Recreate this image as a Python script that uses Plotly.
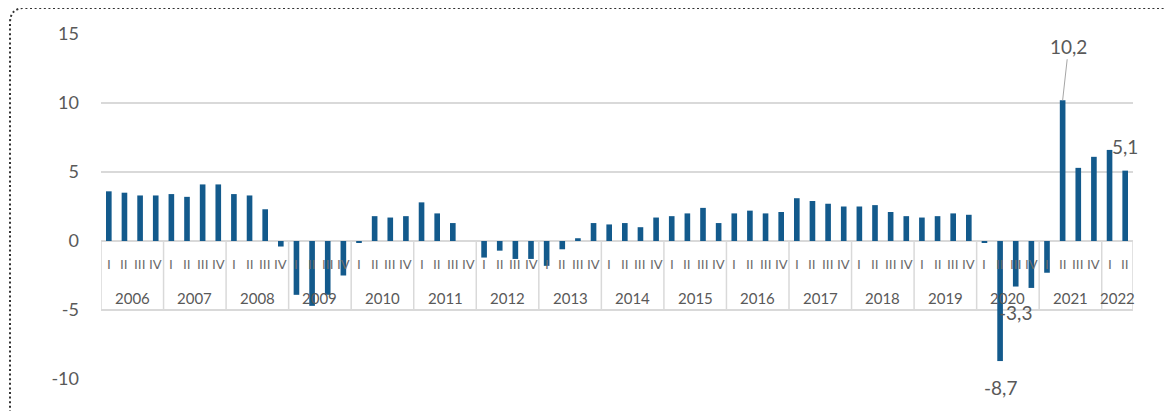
import plotly.graph_objects as go

# ---------------- data ----------------
years = [str(y) for y in range(2006, 2023)]
quarters = ["I", "II", "III", "IV"]
# quarterly values, 2006 Q1 ... 2022 Q2
growth = [
    3.6, 3.5, 3.3, 3.3,      # 2006
    3.4, 3.2, 4.1, 4.1,      # 2007
    3.4, 3.3, 2.3, -0.4,     # 2008
    -3.9, -4.7, -3.9, -2.5,  # 2009
    -0.1, 1.8, 1.7, 1.8,     # 2010
    2.8, 2.0, 1.3, 0.0,      # 2011
    -1.2, -0.7, -1.3, -1.3,  # 2012
    -1.8, -0.6, 0.2, 1.3,    # 2013
    1.2, 1.3, 1.0, 1.7,      # 2014
    1.8, 2.0, 2.4, 1.3,      # 2015
    2.0, 2.2, 2.0, 2.1,      # 2016
    3.1, 2.9, 2.7, 2.5,      # 2017
    2.5, 2.6, 2.1, 1.8,      # 2018
    1.7, 1.8, 2.0, 1.9,      # 2019
    -0.1, -8.7, -3.3, -3.4,  # 2020
    -2.3, 10.2, 5.3, 6.1,    # 2021
    6.6, 5.1,                # 2022
]
labelled = [(2020, "II"), (2020, "III"), (2021, "II"), (2022, "II")]

# ---------------- derived ----------------
cat_year = []
cat_q = []
for y in years:
    for q in quarters:
        if len(cat_year) < len(growth):
            cat_year.append(y)
            cat_q.append(q)
idx = list(range(len(growth)))

TXT = "#595959"
GRID = "#d9d9d9"
FONT = "Lato, Open Sans, sans-serif"
QFONT = "DejaVu Sans, sans-serif"

fig = go.Figure()
fig.add_trace(go.Bar(
    x=idx, y=growth, width=0.36,
    marker=dict(color="#135a8c", line=dict(width=0)),
    hoverinfo="skip", cliponaxis=False,
))

ann = []
# quarter labels
for i, q in zip(idx, cat_q):
    ann.append(dict(x=i, y=-1.68, xref="x", yref="y", text=q, showarrow=False,
                    font=dict(family=QFONT, size=13, color="#6b6b6b")))
# year labels and separators
shapes = []
n = len(growth)
for k, y in enumerate(years):
    first = 4 * k
    last = min(4 * k + 3, n - 1)
    ann.append(dict(x=(first + last) / 2, y=-4.15, xref="x", yref="y", text=y,
                    showarrow=False, font=dict(family=FONT, size=15, color=TXT)))
    shapes.append(dict(type="line", xref="x", yref="y", x0=first - 0.5, x1=first - 0.5,
                       y0=0, y1=-5, line=dict(color=GRID, width=1.5), layer="below"))
shapes.append(dict(type="line", xref="x", yref="y", x0=n - 0.5, x1=n - 0.5,
                   y0=0, y1=-5, line=dict(color=GRID, width=1.5), layer="below"))

# data labels
def fmt(v):
    return f"{v:.1f}".replace(".", ",")

for (yr, q) in labelled:
    i = [j for j in idx if cat_year[j] == str(yr) and cat_q[j] == q][0]
    v = growth[i]
    if yr == 2021:
        ann.append(dict(x=i, y=v, xref="x", yref="y", text=fmt(v), showarrow=True,
                        arrowhead=0, arrowwidth=1, arrowcolor="#a6a6a6", ax=6, ay=-54,
                        font=dict(family=FONT, size=19, color=TXT)))
    elif v > 0:
        ann.append(dict(x=i, y=v, xref="x", yref="y", text=fmt(v), showarrow=False,
                        yshift=24, font=dict(family=FONT, size=19, color=TXT)))
    else:
        ann.append(dict(x=i, y=v, xref="x", yref="y", text=fmt(v), showarrow=False,
                        yshift=-26, font=dict(family=FONT, size=19, color=TXT)))

# page body has an 8px margin: compute layout in figure coordinates
OFF = 8
FW, FH = 1174 - OFF, 411 - OFF
L, T, W, H = 101 - OFF, 34 - OFF, 1032, 345

def px(xp):  # window pixel -> paper x
    return (xp - OFF - L) / W
def py(yp):  # window pixel -> paper y
    return (T + H - (yp - OFF)) / H

path = (f"M {px(10)},{py(440)} L {px(10)},{py(23)} "
        f"Q {px(10)},{py(8)} {px(25)},{py(8)} L {px(1200)},{py(8)}")
shapes.append(dict(type="path", xref="paper", yref="paper", path=path,
                   line=dict(color="#333333", width=2, dash="2px,2.6px")))

fig.update_layout(
    width=FW, height=FH,
    margin=dict(l=L, r=FW - L - W, t=T, b=FH - T - H),
    paper_bgcolor="white", plot_bgcolor="white",
    showlegend=False,
    annotations=ann, shapes=shapes,
    xaxis=dict(range=[-0.5, n - 0.5], showticklabels=False, showgrid=False,
               zeroline=False, showline=False, fixedrange=True),
    yaxis=dict(range=[-10, 15], tickvals=[-10, -5, 0, 5, 10, 15],
               ticktext=["-10", "-5", "0", "5", "10", "15"],
               showgrid=True, gridcolor=GRID, gridwidth=1.5,
               zeroline=True, zerolinecolor=GRID, zerolinewidth=1.5,
               showline=False, ticks="", ticklabelstandoff=21,
               tickfont=dict(family=FONT, size=18, color=TXT), fixedrange=True),
)

fig.write_html("out.html")
